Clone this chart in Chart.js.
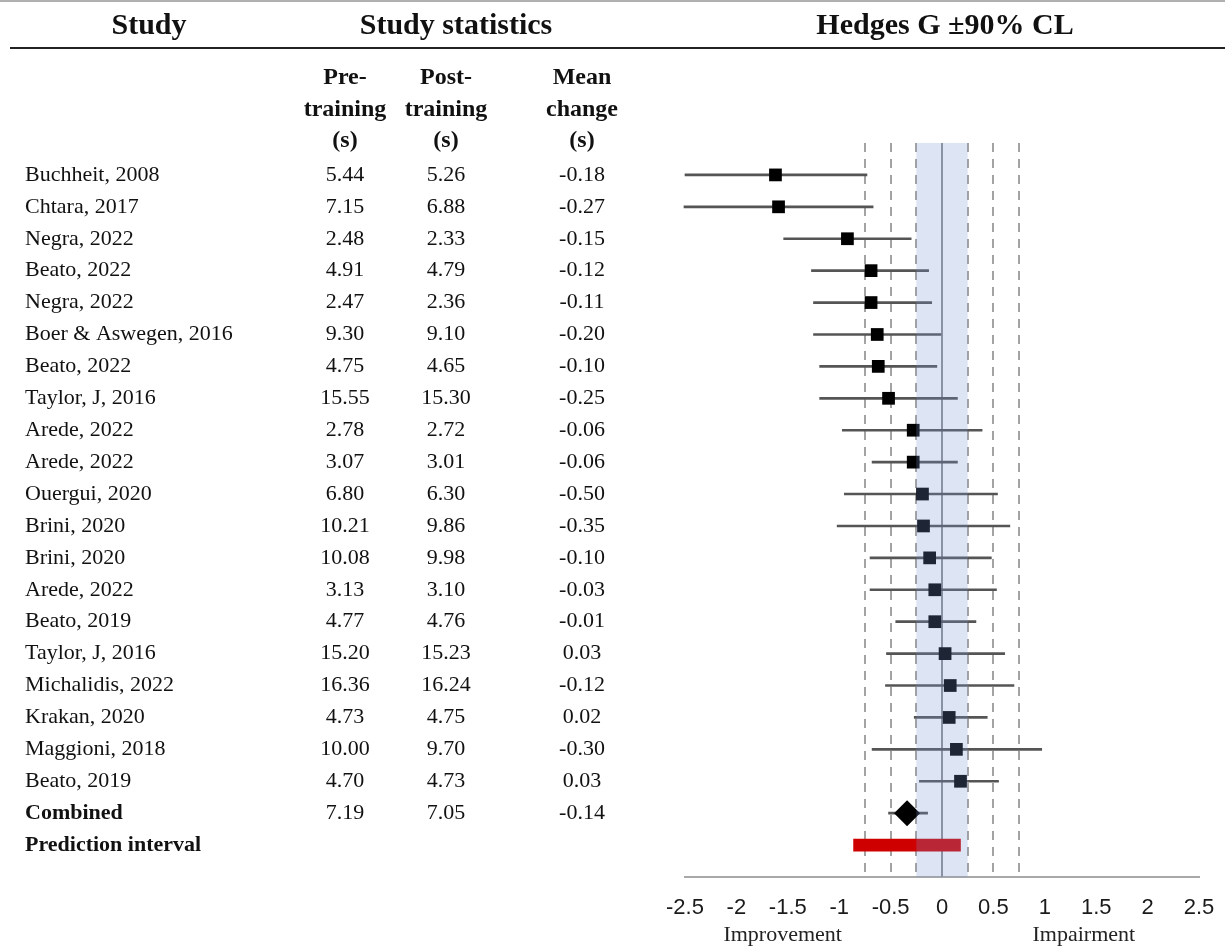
<!DOCTYPE html>
<html>
<head>
<meta charset="utf-8">
<title>Hedges G forest plot</title>
<script src="https://cdn.jsdelivr.net/npm/chart.js@4.4.1/dist/chart.umd.min.js"></script>
<style>
  body { margin: 0; background: #ffffff; }
  #forest { display: block; }
</style>
</head>
<body>
<canvas id="forest" width="1225" height="951"></canvas>
<script>
// study rows, top to bottom
const studies = [
  "Buchheit, 2008", "Chtara, 2017", "Negra, 2022", "Beato, 2022", "Negra, 2022",
  "Boer & Aswegen, 2016", "Beato, 2022", "Taylor, J, 2016", "Arede, 2022", "Arede, 2022",
  "Ouergui, 2020", "Brini, 2020", "Brini, 2020", "Arede, 2022", "Beato, 2019",
  "Taylor, J, 2016", "Michalidis, 2022", "Krakan, 2020", "Maggioni, 2018", "Beato, 2019"
];
const preTraining = [5.44, 7.15, 2.48, 4.91, 2.47, 9.30, 4.75, 15.55, 2.78, 3.07, 6.80, 10.21, 10.08, 3.13, 4.77, 15.20, 16.36, 4.73, 10.00, 4.70];
const postTraining = [5.26, 6.88, 2.33, 4.79, 2.36, 9.10, 4.65, 15.30, 2.72, 3.01, 6.30, 9.86, 9.98, 3.10, 4.76, 15.23, 16.24, 4.75, 9.70, 4.73];
const meanChange = [-0.18, -0.27, -0.15, -0.12, -0.11, -0.20, -0.10, -0.25, -0.06, -0.06, -0.50, -0.35, -0.10, -0.03, -0.01, 0.03, -0.12, 0.02, -0.30, 0.03];

// Hedges G with 90% confidence limits
const hedgesG = [-1.62, -1.59, -0.92, -0.69, -0.69, -0.63, -0.62, -0.52, -0.28, -0.28, -0.19, -0.18, -0.12, -0.07, -0.07, 0.03, 0.08, 0.07, 0.14, 0.18];
const lowerCL = [-2.50, -2.51, -1.54, -1.27, -1.25, -1.25, -1.19, -1.19, -0.97, -0.68, -0.95, -1.02, -0.70, -0.70, -0.45, -0.54, -0.55, -0.27, -0.68, -0.22];
const upperCL = [-0.73, -0.67, -0.30, -0.13, -0.10, -0.01, -0.05, 0.15, 0.39, 0.15, 0.54, 0.66, 0.48, 0.53, 0.33, 0.61, 0.70, 0.44, 0.97, 0.55];

// pooled estimate and prediction interval
const combinedStats = [7.19, 7.05, -0.14];
const combinedG = -0.34;
const combinedCL = [-0.52, -0.14];
const predictionInterval = [-0.86, 0.18];

// reference lines and trivial-effect band
const dashedLines = [-0.75, -0.5, -0.25, 0.25, 0.5, 0.75];
const trivialBand = [-0.25, 0.25];
const axisNotes = ["Improvement", "Impairment"];
const axisNotePos = [-1.55, 1.38];

const combinedRow = studies.length;
const predictionRow = studies.length + 1;

const serif = "'Liberation Serif', 'Times New Roman', serif";

// CI bars for every study plus the combined estimate
let ciData = studies.map(function (s, i) {
  return { x: [lowerCL[i], upperCL[i]], y: i };
});
ciData.push({ x: combinedCL, y: combinedRow });

let pointData = studies.map(function (s, i) {
  return { x: hedgesG[i], y: i };
});

// draws dashed reference lines and the zero line behind the marks
const refLinesPlugin = {
  id: "refLines",
  beforeDatasetsDraw(chart) {
    const ctx = chart.ctx;
    const xs = chart.scales.x;
    const area = chart.chartArea;
    ctx.save();
    ctx.strokeStyle = "#a3a3a3";
    ctx.lineWidth = 2;
    ctx.setLineDash([9, 7]);
    dashedLines.forEach(function (v) {
      const px = Math.round(xs.getPixelForValue(v));
      ctx.beginPath();
      ctx.moveTo(px, area.top);
      ctx.lineTo(px, area.bottom);
      ctx.stroke();
    });
    ctx.setLineDash([]);
    ctx.strokeStyle = "#8f8f96";
    const zx = Math.round(xs.getPixelForValue(0));
    ctx.beginPath();
    ctx.moveTo(zx, area.top);
    ctx.lineTo(zx, area.bottom);
    ctx.stroke();
    ctx.restore();
  },
  afterDatasetsDraw(chart) {
    // light blue band laid over the marks, tints what it covers
    const ctx = chart.ctx;
    const xs = chart.scales.x;
    const area = chart.chartArea;
    const x0 = xs.getPixelForValue(trivialBand[0]);
    const x1 = xs.getPixelForValue(trivialBand[1]);
    ctx.save();
    ctx.fillStyle = "rgba(120, 150, 210, 0.25)";
    ctx.fillRect(x0, area.top, x1 - x0, area.bottom - area.top);
    ctx.restore();
  }
};

// table text on the left and headers
const tablePlugin = {
  id: "tableText",
  afterDraw(chart) {
    const ctx = chart.ctx;
    const ys = chart.scales.y;
    const xs = chart.scales.x;
    ctx.save();

    // top rule and header rule
    ctx.strokeStyle = "#b0b0b0";
    ctx.lineWidth = 2;
    ctx.beginPath();
    ctx.moveTo(0, 1);
    ctx.lineTo(1225, 1);
    ctx.stroke();
    ctx.strokeStyle = "#222222";
    ctx.beginPath();
    ctx.moveTo(10, 48);
    ctx.lineTo(1225, 48);
    ctx.stroke();

    ctx.fillStyle = "#111111";
    ctx.textBaseline = "middle";
    ctx.textAlign = "center";
    ctx.font = "bold 30px " + serif;
    ctx.fillText("Study", 149, 26);
    ctx.fillText("Study statistics", 456, 26);
    ctx.fillText("Hedges G \u00b190% CL", 945, 26);

    const colX = [345, 446, 582];
    const sub = [["Pre-", "training", "(s)"], ["Post-", "training", "(s)"], ["Mean", "change", "(s)"]];
    ctx.font = "bold 24px " + serif;
    sub.forEach(function (lines, c) {
      lines.forEach(function (t, k) {
        ctx.fillText(t, colX[c], 78 + k * 31.5);
      });
    });

    ctx.font = "22px " + serif;
    studies.forEach(function (name, i) {
      const y = ys.getPixelForValue(i);
      ctx.textAlign = "left";
      ctx.fillText(name, 25, y);
      ctx.textAlign = "center";
      ctx.fillText(preTraining[i].toFixed(2), colX[0], y);
      ctx.fillText(postTraining[i].toFixed(2), colX[1], y);
      ctx.fillText(meanChange[i].toFixed(2), colX[2], y);
    });

    const cy = ys.getPixelForValue(combinedRow);
    ctx.textAlign = "center";
    combinedStats.forEach(function (v, c) {
      ctx.fillText(v.toFixed(2), colX[c], cy);
    });
    ctx.textAlign = "left";
    ctx.font = "bold 22px " + serif;
    ctx.fillText("Combined", 25, cy);
    ctx.fillText("Prediction interval", 25, ys.getPixelForValue(predictionRow));

    // labels under the axis
    ctx.textAlign = "center";
    ctx.font = "22px " + serif;
    ctx.fillStyle = "#222222";
    axisNotes.forEach(function (t, k) {
      ctx.fillText(t, xs.getPixelForValue(axisNotePos[k]), 935);
    });
    ctx.restore();
  }
};

const forestChart = new Chart(document.getElementById("forest"), {
  type: "bar",
  data: {
    datasets: [
      {
        type: "scatter",
        data: [{ x: combinedG, y: combinedRow }],
        pointStyle: "rectRot",
        pointRadius: 13,
        backgroundColor: "#000000",
        borderWidth: 0,
        order: 0
      },
      {
        type: "scatter",
        data: pointData,
        pointStyle: "rect",
        pointRadius: 9,
        backgroundColor: "#000000",
        borderWidth: 0,
        order: 1
      },
      {
        type: "bar",
        indexAxis: "y",
        data: ciData,
        backgroundColor: "#555555",
        barThickness: 2,
        grouped: false,
        clip: false,
        order: 2
      },
      {
        type: "bar",
        indexAxis: "y",
        data: [{ x: predictionInterval, y: predictionRow }],
        backgroundColor: "#cf0000",
        barThickness: 12,
        grouped: false,
        order: 3
      }
    ]
  },
  options: {
    responsive: false,
    animation: false,
    devicePixelRatio: 1,
    layout: { padding: { left: 685, right: 26, top: 143, bottom: 0 } },
    plugins: {
      legend: { display: false },
      tooltip: { enabled: false },
      title: { display: false }
    },
    scales: {
      x: {
        type: "linear",
        position: "bottom",
        offset: false,
        min: -2.5,
        max: 2.5,
        grid: { display: false, drawTicks: false, offset: false },
        border: { display: true, color: "#a8a8a8", width: 2 },
        ticks: {
          stepSize: 0.5,
          padding: 18,
          color: "#1a1a1a",
          font: { family: "'Liberation Sans', Arial, sans-serif", size: 22 },
          callback: function (value) {
            return String(Math.round(value * 10) / 10);
          }
        },
        afterFit: function (scale) {
          scale.height = 74;
          // let the layout padding alone decide the plot edges
          scale.paddingLeft = 0;
          scale.paddingRight = 0;
        }
      },
      y: {
        type: "linear",
        offset: false,
        min: -1,
        max: 22,
        reverse: true,
        display: false,
        grid: { offset: false }
      }
    }
  },
  plugins: [refLinesPlugin, tablePlugin]
});
</script>
</body>
</html>
